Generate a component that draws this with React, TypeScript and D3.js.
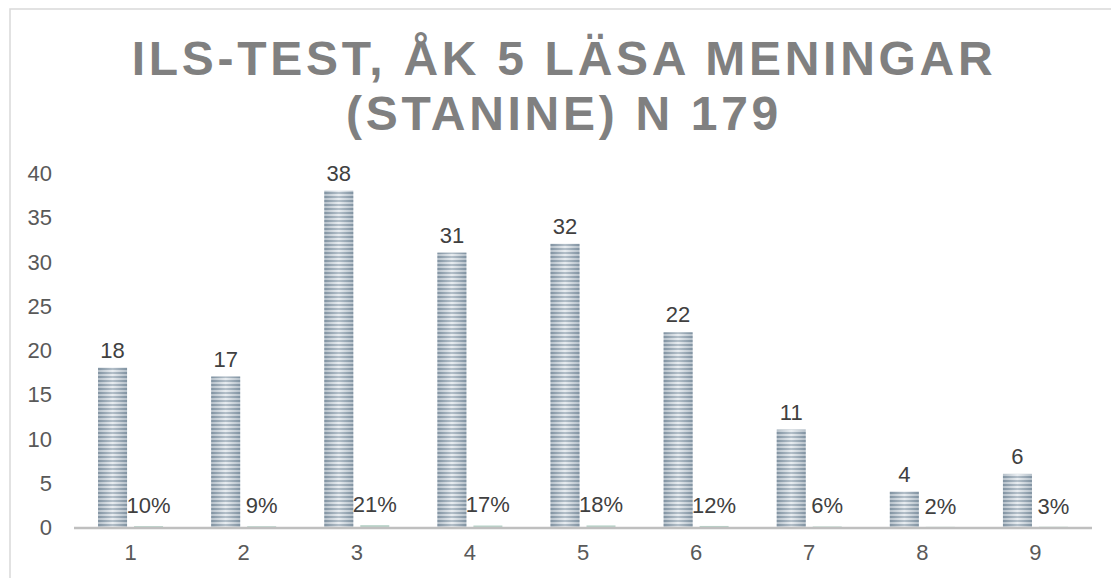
import React from 'react';
import * as d3 from 'd3';

const categories = ['1', '2', '3', '4', '5', '6', '7', '8', '9'];
const counts = [18, 17, 38, 31, 32, 22, 11, 4, 6];
const shares = [0.1, 0.09, 0.21, 0.17, 0.18, 0.12, 0.06, 0.02, 0.03];
const yTicks = [0, 5, 10, 15, 20, 25, 30, 35, 40];
const titleLines = ['ILS-TEST, ÅK 5 LÄSA MENINGAR', '(STANINE) N 179'];

const W = 1111;
const H = 578;
const margin = { top: 173, right: 19, bottom: 51, left: 74 };
const font = 'Arial, "Liberation Sans", sans-serif';

export default function App() {
  const x = d3.scaleBand<string>()
    .domain(categories)
    .range([margin.left, W - margin.right]);
  const y = d3.scaleLinear()
    .domain([0, 40])
    .range([H - margin.bottom, margin.top]);

  const barW = 29;
  const gap = 7;
  const fmtPct = d3.format('.0%');

  return (
    <svg width={W} height={H} style={{ position: 'absolute', left: 0, top: 0, background: '#fff' }}>
      <defs>
        <pattern id="stripes" width="4" height="4" patternUnits="userSpaceOnUse">
          <rect width="4" height="4" fill="#dbe2e8" />
          <rect width="4" height="2" fill="#8a9cab" />
        </pattern>
        <linearGradient id="shine" x1="0" x2="1" y1="0" y2="0">
          <stop offset="0" stopColor="#6f8190" stopOpacity="0.35" />
          <stop offset="0.5" stopColor="#ffffff" stopOpacity="0.35" />
          <stop offset="1" stopColor="#6f8190" stopOpacity="0.35" />
        </linearGradient>
      </defs>

      <rect x={10} y={9} width={W + 10} height={H + 10} fill="none" stroke="#d9d9d9" strokeWidth={1.5} />

      {titleLines.map((t, i) => (
        <text key={t} x={564} y={75 + i * 55} textAnchor="middle" fontFamily={font}
          fontSize={48} fontWeight="bold" fill="#808080" letterSpacing={3.7}>{t}</text>
      ))}

      {yTicks.map(t => (
        <text key={t} x={52} y={y(t) + 8} textAnchor="end" fontFamily={font} fontSize={22} fill="#595959">{t}</text>
      ))}

      {categories.map((c, i) => {
        const cx = x(c)! + x.bandwidth() / 2;
        const x1 = cx - gap / 2 - barW;
        const x2 = cx + gap / 2;
        return (
          <g key={c}>
            <rect x={x1} y={y(counts[i])} width={barW} height={y(0) - y(counts[i])} fill="url(#stripes)" />
            <rect x={x1} y={y(counts[i])} width={barW} height={y(0) - y(counts[i])} fill="url(#shine)" />
            <rect x={x2} y={y(shares[i])} width={barW} height={y(0) - y(shares[i])} fill="#b9d3c9" />
            <text x={x1 + barW / 2} y={y(counts[i]) - 10} textAnchor="middle" fontFamily={font} fontSize={22} fill="#404040">{counts[i]}</text>
            <text x={x2 + barW / 2} y={y(shares[i]) - 13} textAnchor="middle" fontFamily={font} fontSize={22} fill="#404040">{fmtPct(shares[i])}</text>
            <text x={cx} y={y(0) + 33} textAnchor="middle" fontFamily={font} fontSize={22} fill="#595959">{c}</text>
          </g>
        );
      })}

      <line x1={margin.left} x2={W - margin.right} y1={y(0) + 1} y2={y(0) + 1} stroke="#bfbfbf" strokeWidth={2.5} />
    </svg>
  );
}
